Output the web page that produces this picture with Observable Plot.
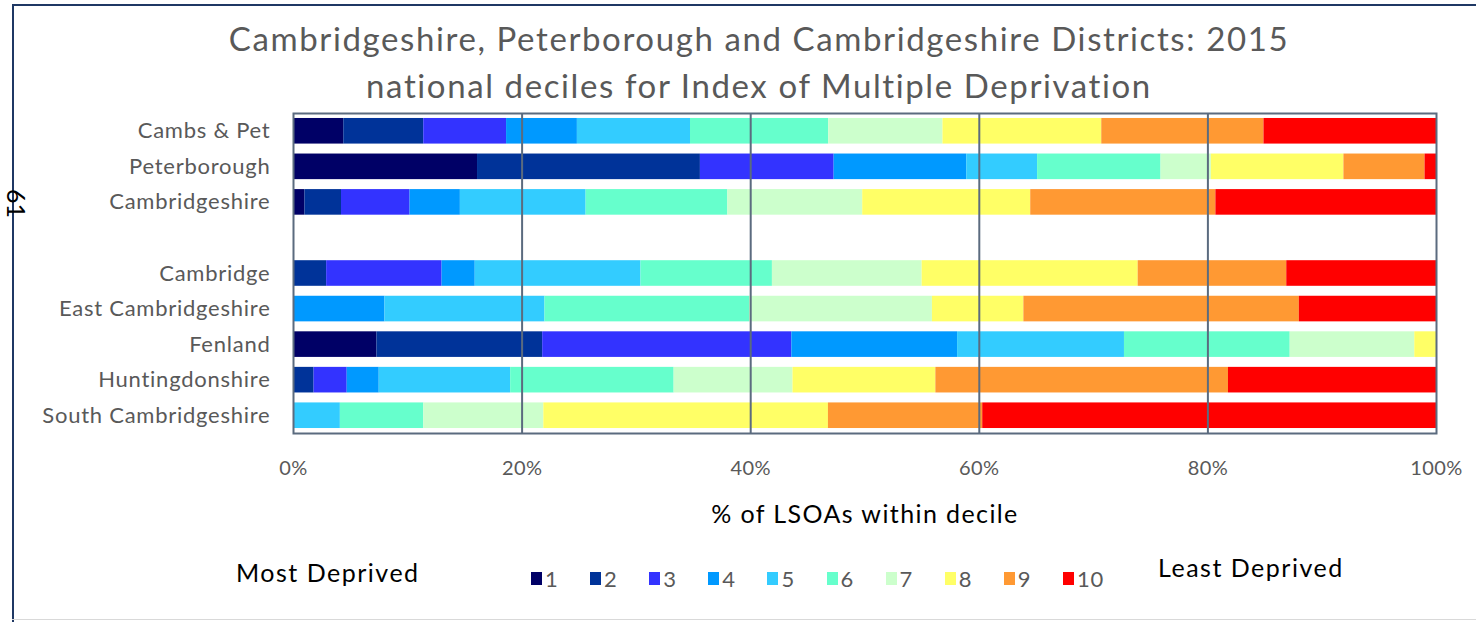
<!DOCTYPE html>
<html>
<head>
<meta charset="utf-8">
<script src="https://cdn.jsdelivr.net/npm/d3@7"></script>
<script src="https://cdn.jsdelivr.net/npm/@observablehq/plot@0.6"></script>
<style>
  html, body { margin: 0; padding: 0; background: #fff; }
  #wrap { position: relative; width: 1476px; height: 622px; overflow: hidden; background: #fff; font-family: Lato, "Open Sans", sans-serif; }
  .abs { position: absolute; white-space: nowrap; }
  .line { position: absolute; background: #1f3864; z-index: 5; }
  #borderTop { left: 12px; top: 4px; width: 1464px; height: 2px; }
  #borderLeft { left: 12px; top: 4px; width: 2px; height: 618px; }
  #borderBottom { position: absolute; z-index: 5; left: 12px; top: 619px; width: 1464px; height: 1px; background: #d9d9d9; }
  #title { position: absolute; left: 0; width: 1518px; top: 15px; text-align: center; color: #595959; font-size: 33px; letter-spacing: 1.6px; line-height: 47px; }
  #chart { position: absolute; left: 0; top: 100px; z-index: 1; }
  #chart svg { background: transparent !important; }
  #chart g[aria-label="y-axis tick label"] text { letter-spacing: 0.75px; }
  #chart g[aria-label="x-axis tick label"] text { letter-spacing: 0.4px; }
  #chart g[aria-label="text"] text { letter-spacing: 1.4px; }
  #legend { position: absolute; left: 0; top: 560px; width: 1476px; height: 40px; }
  .sw { position: absolute; top: 12px; width: 11px; height: 13px; }
  .lab { position: absolute; top: 5px; font-size: 22px; letter-spacing: 0.8px; color: #595959; }
  #rot { z-index: 6; }
</style>
</head>
<body>
<div id="wrap">
  <div id="chart"></div>
  <div class="line" id="borderTop"></div>
  <div class="line" id="borderLeft"></div>
  <div id="borderBottom"></div>
  <div class="abs" id="rot" style="left:3px; top:186px; font-size:25px; color:#000; transform-origin: 0 0; transform: translate(29px, 3px) rotate(90deg);">61</div>
  <div id="title">Cambridgeshire, Peterborough and Cambridgeshire Districts: 2015<br>national deciles for Index of Multiple Deprivation</div>
  <div id="legend"></div>
</div>
<script>
// ---- data ----
const areas = ["Cambs & Pet", "Peterborough", "Cambridgeshire", "", "Cambridge", "East Cambridgeshire", "Fenland", "Huntingdonshire", "South Cambridgeshire"];
const deciles = ["1", "2", "3", "4", "5", "6", "7", "8", "9", "10"];
const decileColors = ["#000066", "#003399", "#3333ff", "#0099ff", "#33ccff", "#66ffcc", "#ccffcc", "#ffff66", "#ff9933", "#ff0000"];
// % of LSOAs in each national decile (1 = most deprived ... 10 = least deprived)
const cambsPet       = [4.4, 7.0, 7.25, 6.2, 9.9, 12.1, 10.0, 13.9, 14.2, 15.1];
const peterborough   = [16.1, 19.5, 11.7, 11.6, 6.2, 10.8, 4.4, 11.6, 7.1, 1.0];
const cambridgeshire = [1.0, 3.2, 6.0, 4.4, 11.0, 12.4, 11.8, 14.7, 16.2, 19.3];
const cambridge      = [0, 2.9, 10.1, 2.9, 14.5, 11.5, 13.1, 18.9, 13.0, 13.1];
const eastCambs      = [0, 0, 0, 8.0, 14.0, 17.9, 16.0, 8.0, 24.1, 12.0];
const fenland        = [7.3, 14.5, 21.8, 14.5, 14.6, 14.5, 10.9, 1.9, 0, 0];
const huntingdonshire= [0, 1.8, 2.9, 2.8, 11.5, 14.3, 10.4, 12.5, 25.6, 18.2];
const southCambs     = [0, 0, 0, 0, 4.1, 7.3, 10.5, 24.9, 13.5, 39.7];
const xTicks = [0, 0.2, 0.4, 0.6, 0.8, 1];
const xLabel = "% of LSOAs within decile";

const series = [
  ["Cambs & Pet", cambsPet],
  ["Peterborough", peterborough],
  ["Cambridgeshire", cambridgeshire],
  ["Cambridge", cambridge],
  ["East Cambridgeshire", eastCambs],
  ["Fenland", fenland],
  ["Huntingdonshire", huntingdonshire],
  ["South Cambridgeshire", southCambs]
];
const rows = [];
for (const [area, vals] of series) {
  vals.forEach((v, i) => rows.push({area, decile: deciles[i], value: v}));
}

const gridColor = "#5b6b7f";
const plot = Plot.plot({
  width: 1476,
  height: 440,
  marginTop: 13,
  marginBottom: 107,
  marginLeft: 293,
  marginRight: 40,
  style: {fontFamily: "Lato, 'Open Sans', sans-serif", background: "transparent", overflow: "visible"},
  x: {domain: [0, 1]},
  y: {type: "band", domain: areas, paddingInner: 0.28, paddingOuter: 0.14, round: false},
  color: {type: "ordinal", domain: deciles, range: decileColors},
  marks: [
    Plot.barX(rows, Plot.stackX({y: "area", x: "value", fill: "decile", offset: "normalize", order: deciles})),
    Plot.gridX(xTicks.slice(1, -1), {stroke: gridColor, strokeOpacity: 1, strokeWidth: 2}),
    Plot.frame({stroke: gridColor, strokeWidth: 2}),
    Plot.axisX(xTicks, {tickSize: 0, tickPadding: 27, tickFormat: d3.format(".0%"), fontSize: 20, fill: "#595959", label: null}),
    Plot.axisY(areas.filter(d => d !== ""), {tickSize: 0, tickPadding: 23, fontSize: 22, fill: "#595959", label: null}),
    Plot.text([xLabel], {frameAnchor: "bottom", dy: 89, fontSize: 25, fill: "#000", text: d => d})
  ]
});
document.getElementById("chart").appendChild(plot);

// ---- legend ----
const legend = document.getElementById("legend");
const addText = (txt, left, top, size, color) => {
  const d = document.createElement("div");
  d.className = "abs";
  d.textContent = txt;
  d.style.left = left + "px";
  d.style.top = top + "px";
  d.style.fontSize = size + "px";
  d.style.letterSpacing = "1.5px";
  d.style.color = color;
  legend.appendChild(d);
};
addText("Most Deprived", 236, -3, 25, "#000");
addText("Least Deprived", 1158, -8, 25, "#000");
deciles.forEach((d, i) => {
  const x = 531 + i * 59.1;
  const sw = document.createElement("div");
  sw.className = "sw";
  sw.style.left = x + "px";
  sw.style.background = decileColors[i];
  legend.appendChild(sw);
  const lb = document.createElement("div");
  lb.className = "lab";
  lb.style.left = (x + 14) + "px";
  lb.textContent = d;
  legend.appendChild(lb);
});
</script>
</body>
</html>
